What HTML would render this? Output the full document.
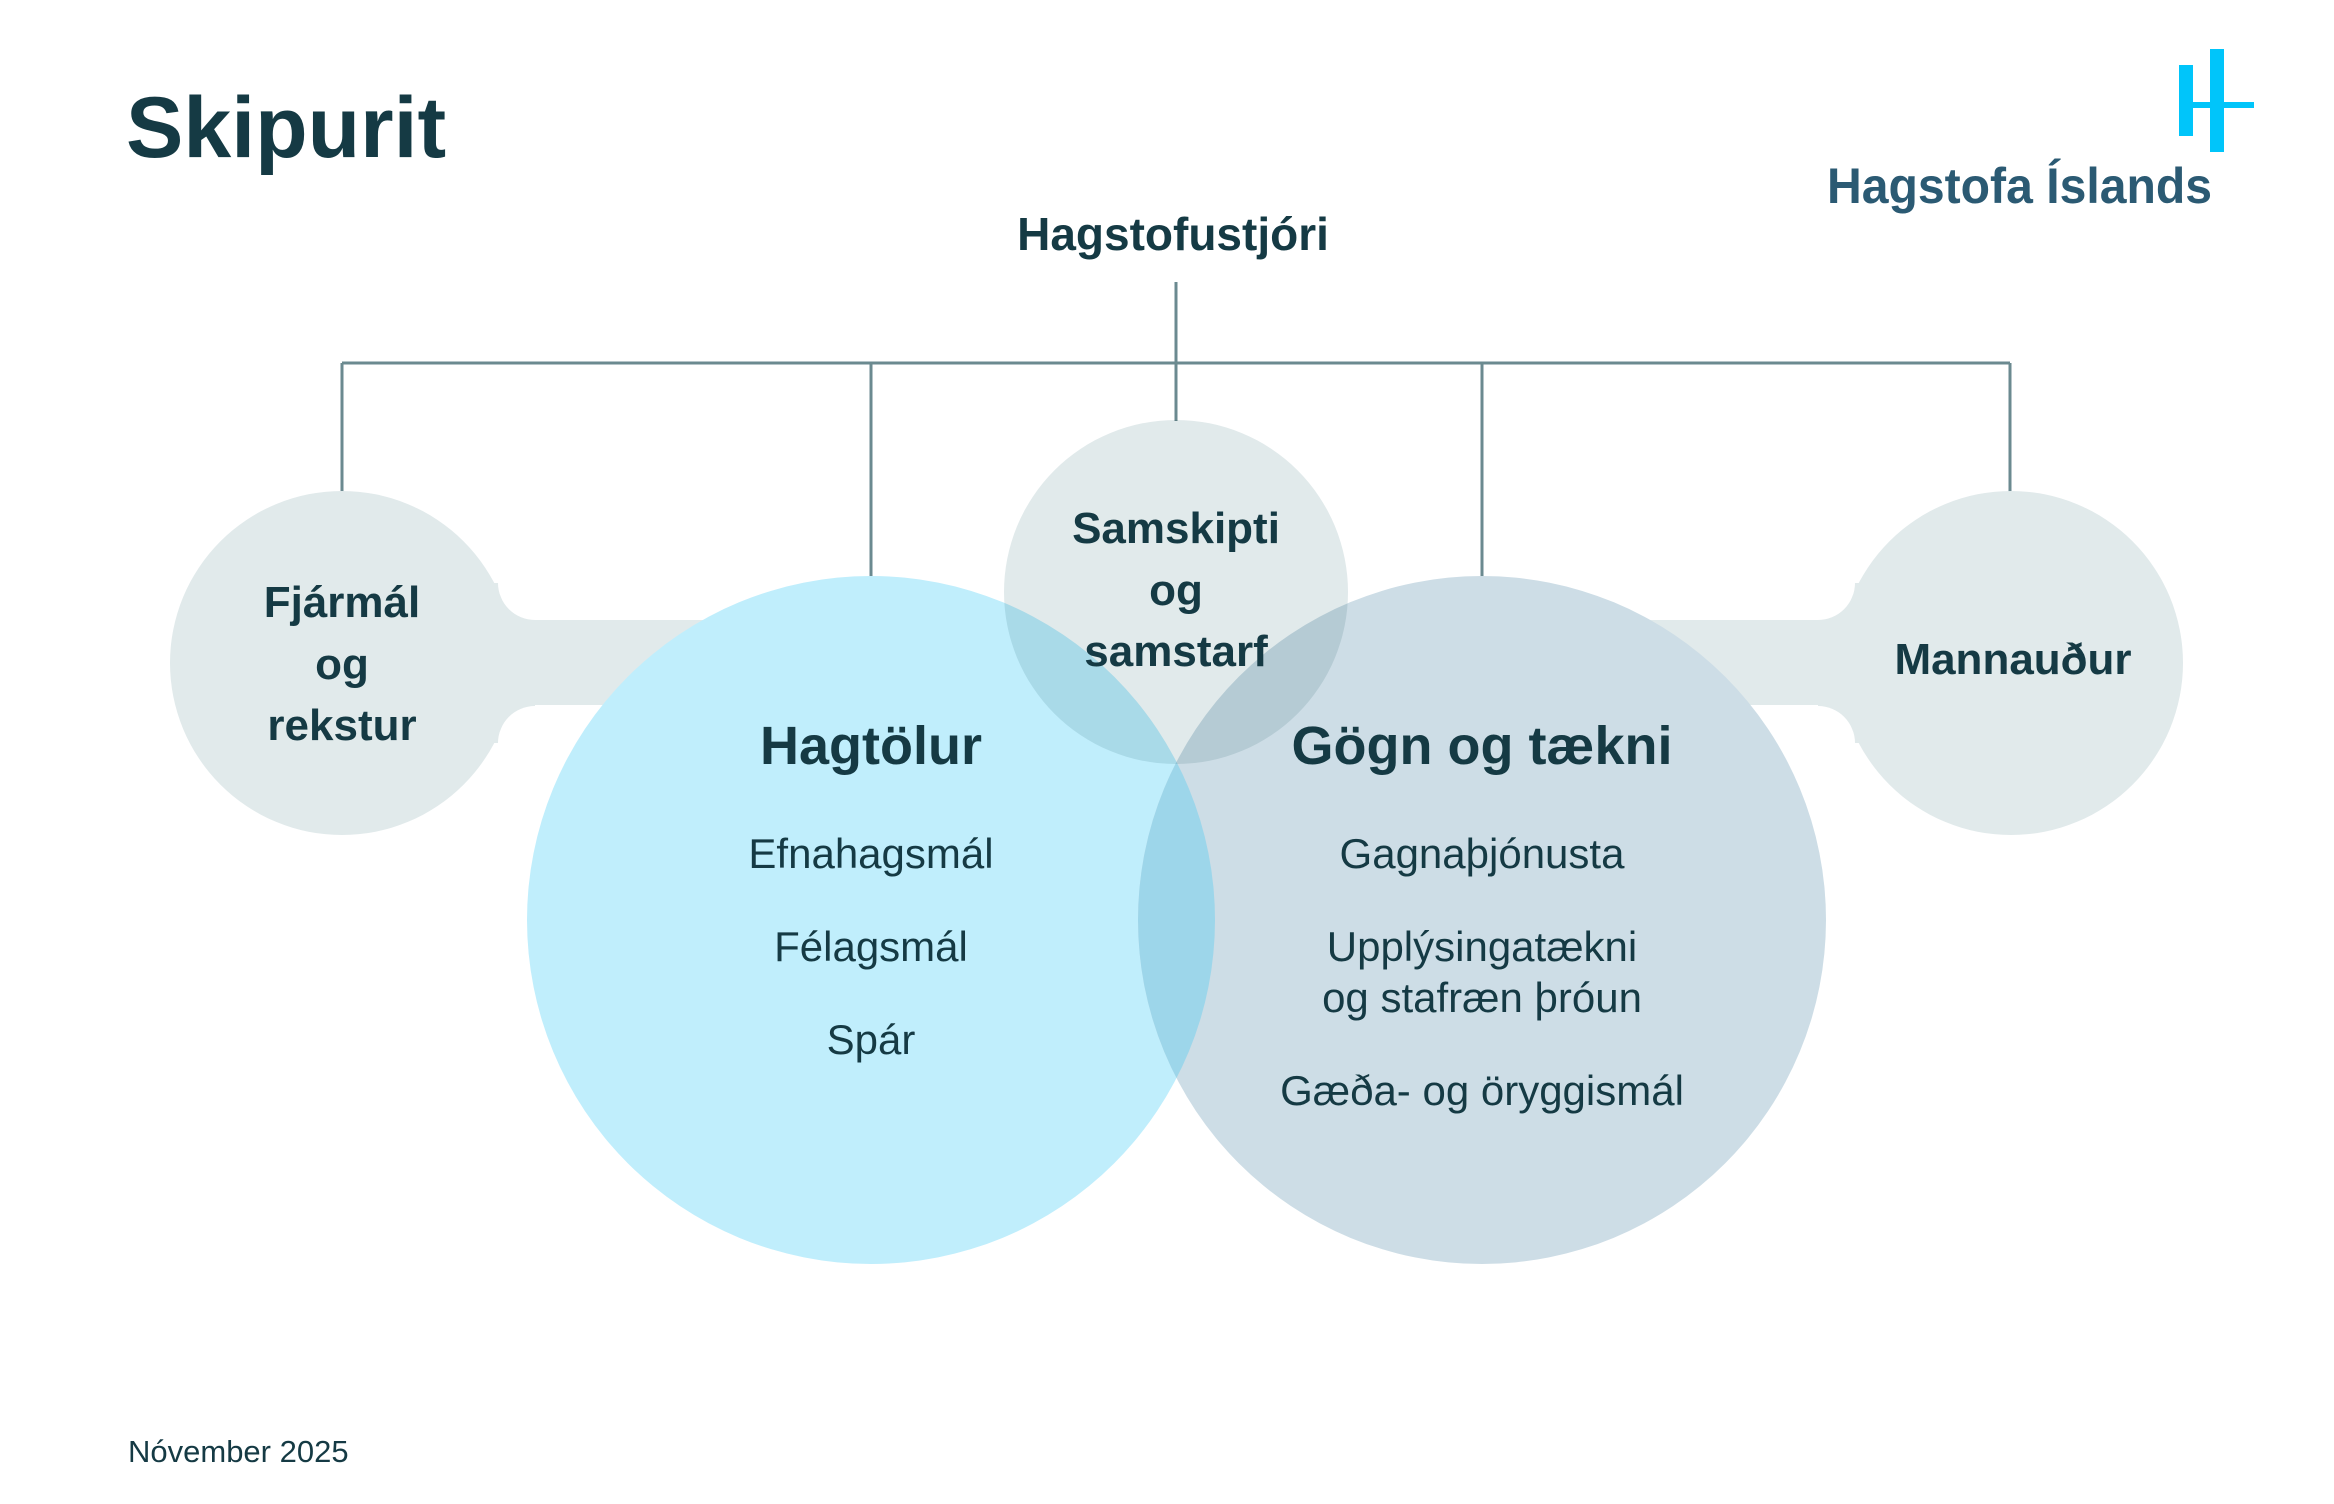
<!DOCTYPE html>
<html><head><meta charset="utf-8"><style>
html,body{margin:0;padding:0;background:#fff}
body{width:2334px;height:1504px;position:relative;overflow:hidden;font-family:"Liberation Sans",sans-serif}
</style></head><body>
<svg width="2334" height="1504" viewBox="0 0 2334 1504" xmlns="http://www.w3.org/2000/svg" style="position:absolute;left:0;top:0">
<defs>
<clipPath id="cg"><circle cx="1482" cy="920" r="344"/></clipPath>
</defs>
<g font-family="Liberation Sans, sans-serif" fill="#153a44">
<text x="126" y="157" font-size="86" font-weight="bold">Skipurit</text>
<text x="1827" y="203" font-size="50" font-weight="bold" fill="#2b5a73" textLength="385" lengthAdjust="spacingAndGlyphs">Hagstofa Íslands</text>
<text x="1173" y="250" font-size="46" font-weight="bold" text-anchor="middle">Hagstofustjóri</text>
</g>
<rect x="2179" y="65" width="14" height="71" fill="#00c5fa"/>
<rect x="2210" y="49" width="14" height="103" fill="#00c5fa"/>
<rect x="2179" y="102" width="75" height="6" fill="#00c5fa"/>
<g stroke="#6b8a90" stroke-width="3" fill="none">
<line x1="1176" y1="282" x2="1176" y2="421"/>
<line x1="342" y1="363" x2="2010" y2="363"/>
<line x1="342" y1="363" x2="342" y2="492"/>
<line x1="871" y1="363" x2="871" y2="577"/>
<line x1="1482" y1="363" x2="1482" y2="577"/>
<line x1="2010" y1="363" x2="2010" y2="492"/>
</g>
<g fill="#e1eaeb">
<rect x="342" y="620" width="540" height="85"/>
<rect x="342" y="583" width="193" height="160"/>
<rect x="1470" y="620" width="540" height="85"/>
<rect x="1818" y="583" width="193" height="160"/>
</g>
<circle cx="535" cy="583" r="37" fill="#fff"/>
<circle cx="535" cy="743" r="37" fill="#fff"/>
<circle cx="1818" cy="583" r="37" fill="#fff"/>
<circle cx="1818" cy="743" r="37" fill="#fff"/>
<circle cx="342" cy="663" r="172" fill="#e1eaeb"/>
<circle cx="2011" cy="663" r="172" fill="#e1eaeb"/>
<circle cx="871" cy="920" r="344" fill="#c0eefc"/>
<circle cx="1482" cy="920" r="344" fill="#cddde6"/>
<circle cx="871" cy="920" r="344" fill="#9dd6ea" clip-path="url(#cg)"/>
<circle cx="1176" cy="592" r="172" fill="#e1eaeb" style="mix-blend-mode:multiply"/>
<g font-family="Liberation Sans, sans-serif" fill="#153a44" text-anchor="middle">
<g font-size="44" font-weight="bold">
<text x="342" y="617">Fjármál</text>
<text x="342" y="679">og</text>
<text x="342" y="740">rekstur</text>
<text x="1176" y="543">Samskipti</text>
<text x="1176" y="605">og</text>
<text x="1176" y="666">samstarf</text>
<text x="2013" y="674">Mannauður</text>
</g>
<g font-size="54" font-weight="bold">
<text x="871" y="764">Hagtölur</text>
<text x="1482" y="764">Gögn og tækni</text>
</g>
<g font-size="42">
<text x="871" y="868">Efnahagsmál</text>
<text x="871" y="961">Félagsmál</text>
<text x="871" y="1054">Spár</text>
<text x="1482" y="868">Gagnaþjónusta</text>
<text x="1482" y="961">Upplýsingatækni</text>
<text x="1482" y="1012">og stafræn þróun</text>
<text x="1482" y="1105">Gæða- og öryggismál</text>
</g>
<text x="128" y="1462" font-size="31" text-anchor="start">Nóvember 2025</text>
</g>
</svg>
</body></html>
